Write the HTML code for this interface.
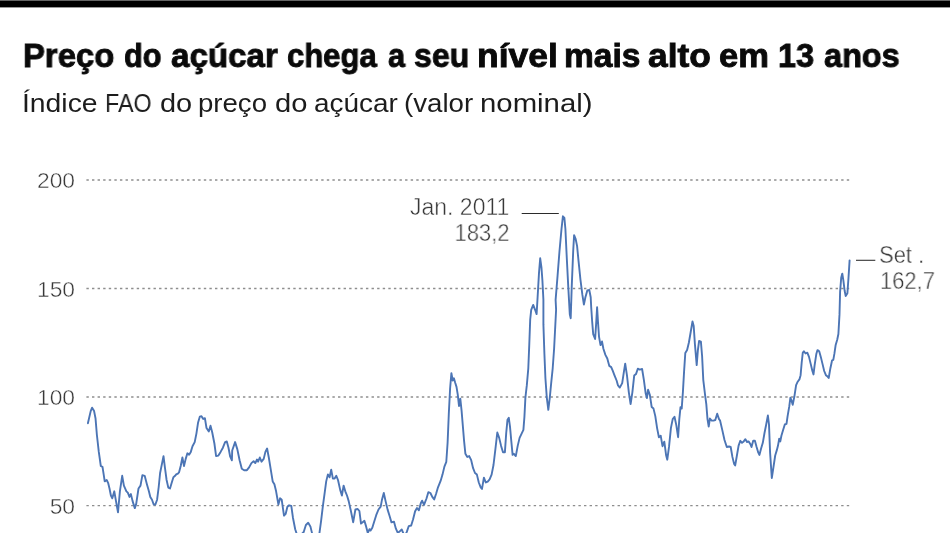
<!DOCTYPE html>
<html><head><meta charset="utf-8">
<style>
html,body{margin:0;padding:0;background:#fff;}
body{width:950px;height:533px;overflow:hidden;position:relative;font-family:"Liberation Sans",sans-serif;}
.w{position:absolute;white-space:nowrap;line-height:1;transform-origin:0 0;will-change:transform;}
.tw{top:38.8px;font-size:33.5px;font-weight:bold;color:#0a0a0a;-webkit-text-stroke:0.9px #0a0a0a;}
.sw{top:91.0px;font-size:25px;color:#1c1c1c;}
.yl{will-change:transform;position:absolute;width:75.0px;text-align:right;left:0;font-size:22.8px;color:#383838;line-height:1;-webkit-text-stroke:0.45px #fff;}
.an{will-change:transform;position:absolute;font-size:23px;color:#383838;line-height:1;white-space:nowrap;-webkit-text-stroke:0.45px #fff;}
svg{position:absolute;left:0;top:0;}
#chart{filter:blur(0.4px);}
#grid{filter:blur(0.3px);}
#title,#sub,.yl,.an{filter:blur(0.35px);}
</style></head><body>
<div id="title"><span class="w tw" style="left:23.24px;transform:scaleX(0.98)">Preço</span><span class="w tw" style="left:124.38px;transform:scaleX(0.9154)">do</span><span class="w tw" style="left:170.61px;transform:scaleX(0.9888)">açúcar</span><span class="w tw" style="left:287.07px;transform:scaleX(0.9258)">chega</span><span class="w tw" style="left:387.88px;transform:scaleX(0.9167)">a</span><span class="w tw" style="left:414.04px;transform:scaleX(0.9564)">seu</span><span class="w tw" style="left:477.38px;transform:scaleX(1.0575)">nível</span><span class="w tw" style="left:564.3px;transform:scaleX(1.0014)">mais</span><span class="w tw" style="left:648.14px;transform:scaleX(1.0552)">alto</span><span class="w tw" style="left:718.87px;transform:scaleX(1.0326)">em</span><span class="w tw" style="left:778.07px;transform:scaleX(0.9657)">13</span><span class="w tw" style="left:823.93px;transform:scaleX(0.9684)">anos</span></div>
<div id="sub"><span class="w sw" style="left:22.03px;transform:scaleX(1.1328)">Índice</span><span class="w sw" style="left:104.94px;transform:scaleX(0.9319)">FAO</span><span class="w sw" style="left:159.94px;transform:scaleX(1.1577)">do</span><span class="w sw" style="left:198.19px;transform:scaleX(1.1033)">preço</span><span class="w sw" style="left:275.03px;transform:scaleX(1.1654)">do</span><span class="w sw" style="left:313.58px;transform:scaleX(1.1162)">açúcar</span><span class="w sw" style="left:403.99px;transform:scaleX(1.1067)">(valor</span><span class="w sw" style="left:480.15px;transform:scaleX(1.1739)">nominal)</span></div>
<svg width="950" height="533" viewBox="0 0 950 533">
<rect x="0" y="0.4" width="950" height="7" fill="#000"/>
<g id="grid" stroke="#8e8e8e" stroke-width="1.3" stroke-dasharray="2.4 3.191" fill="none">
<line x1="86.4" y1="180" x2="850" y2="180"/>
<line x1="86.4" y1="288.5" x2="850" y2="288.5"/>
<line x1="86.4" y1="397" x2="850" y2="397"/>
<line x1="86.4" y1="505.6" x2="850" y2="505.6"/>
</g>
<path id="chart" d="M87.9,423.2 L90.7,411.1 L92.1,407.7 L94.1,411.1 L95.5,418.2 L96.9,435.0 L98.8,451.9 L100.8,466.0 L102.5,466.8 L103.9,475.8 L104.7,481.4 L106.7,480.0 L108.1,482.8 L109.5,488.5 L110.9,495.5 L112.3,498.3 L114.3,491.3 L116.0,501.1 L118.0,512.4 L119.9,491.3 L122.2,475.8 L123.9,485.6 L126.4,491.3 L127.8,492.7 L129.5,496.9 L130.9,494.1 L132.6,501.1 L134.8,508.1 L136.2,503.9 L138.5,488.5 L140.5,485.6 L142.4,475.2 L144.7,475.8 L146.9,484.2 L148.9,491.3 L150.3,496.9 L152.0,499.7 L153.7,504.5 L155.4,504.5 L157.1,499.7 L158.7,487.0 L160.1,473.0 L162.1,463.1 L163.5,456.1 L164.9,467.4 L166.6,480.0 L168.3,487.6 L170.0,488.5 L171.7,482.8 L173.4,477.2 L175.1,475.8 L176.2,474.4 L177.9,473.6 L179.0,472.4 L180.7,466.0 L182.4,457.5 L184.0,466.0 L185.7,458.9 L187.4,453.3 L189.1,454.7 L190.8,451.9 L192.5,446.3 L194.7,442.1 L196.4,433.6 L198.1,422.4 L199.8,416.7 L201.5,416.2 L203.2,419.0 L204.9,418.2 L206.5,428.0 L208.8,431.4 L210.5,425.7 L212.2,432.2 L214.4,443.5 L216.1,456.1 L218.4,455.6 L220.6,451.9 L222.9,447.7 L225.1,442.1 L226.8,441.5 L228.5,447.7 L230.2,456.7 L231.9,460.3 L232.2,450.5 L235.1,442.1 L237.3,449.1 L239.6,460.3 L241.8,468.8 L244.1,470.2 L246.9,470.2 L249.1,467.4 L251.4,463.1 L253.6,461.2 L255.3,463.1 L257.0,459.5 L258.1,461.7 L259.8,457.5 L261.5,461.7 L263.7,458.9 L265.4,451.9 L267.1,448.5 L268.8,457.5 L271.1,471.6 L272.7,481.4 L274.4,484.2 L276.1,491.3 L278.4,504.5 L280.1,498.3 L281.7,499.7 L284.0,515.7 L285.7,513.8 L287.4,506.7 L289.1,505.3 L291.3,505.9 L293.0,518.0 L295.2,529.2 L297.5,536.3 L300.9,534.9 L303.7,532.0 L305.9,525.0 L308.2,522.8 L310.4,526.4 L312.1,533.4 L314.4,540.5 L317.7,540.5 L319.4,533.4 L321.1,520.8 L322.8,506.7 L324.5,494.1 L326.2,481.4 L327.9,474.4 L329.6,477.2 L331.2,469.6 L332.9,478.6 L334.6,478.6 L336.3,475.8 L338.0,480.0 L340.2,489.9 L341.9,495.5 L343.6,485.6 L345.3,491.3 L347.0,495.5 L348.7,501.1 L350.9,511.0 L353.2,522.2 L355.4,509.5 L357.7,509.0 L359.4,511.0 L361.0,523.6 L362.7,522.2 L364.4,520.8 L366.1,526.4 L367.8,532.9 L369.5,529.2 L370.6,530.6 L372.3,527.8 L374.0,522.2 L376.2,515.2 L378.5,509.5 L380.7,506.7 L381.9,500.1 L383.8,493.0 L385.7,501.6 L387.6,509.6 L389.6,516.0 L391.5,522.4 L394.0,521.7 L395.9,528.7 L397.8,532.9 L399.8,531.3 L401.7,529.4 L403.6,533.8 L405.2,535.1 L406.8,531.9 L408.7,526.2 L411.2,525.5 L413.1,519.2 L415.1,511.2 L417.0,508.0 L418.9,510.3 L420.8,503.2 L422.1,500.7 L424.0,504.8 L426.5,498.5 L428.4,492.1 L430.4,493.0 L432.3,496.9 L434.2,499.4 L436.1,493.7 L438.0,487.3 L440.6,480.9 L442.5,474.6 L444.4,466.6 L446.3,461.8 L447.6,442.7 L448.8,414.0 L450.1,388.5 L451.4,373.2 L452.7,380.5 L453.9,378.3 L455.2,382.8 L456.5,386.9 L457.8,394.9 L459.0,406.0 L460.3,398.7 L461.6,410.8 L462.9,426.7 L464.1,441.1 L465.4,453.8 L467.3,457.0 L469.2,456.1 L471.2,460.2 L473.1,468.2 L475.0,473.0 L476.9,474.6 L478.8,482.5 L480.7,487.3 L482.0,488.9 L483.9,477.7 L485.8,482.5 L487.7,481.6 L489.6,479.3 L491.6,474.6 L493.5,465.0 L495.4,449.1 L497.3,432.5 L499.2,437.9 L501.1,445.9 L503.0,452.2 L504.9,452.2 L506.2,433.1 L507.5,419.7 L508.8,417.8 L510.0,426.7 L511.3,441.1 L512.6,454.8 L513.9,453.8 L515.8,456.1 L517.7,445.9 L519.6,437.9 L521.5,433.8 L523.4,429.9 L524.4,417.1 L525.4,397.6 L526.8,385.4 L528.3,368.3 L529.3,343.9 L530.2,319.5 L531.2,309.8 L533.2,304.9 L535.1,309.8 L536.6,314.1 L537.6,297.3 L539.0,272.9 L540.2,258.3 L541.5,268.0 L542.4,280.2 L543.4,299.8 L543.4,324.4 L544.4,353.7 L545.4,378.0 L546.8,397.6 L548.3,409.8 L549.8,397.6 L551.2,382.9 L552.7,368.3 L554.1,348.8 L555.1,329.3 L556.1,309.8 L555.6,299.8 L557.6,275.4 L559.5,251.0 L561.5,229.0 L562.9,216.3 L564.4,218.0 L565.4,229.0 L566.8,258.3 L568.3,287.6 L569.8,314.4 L570.7,318.3 L571.7,287.6 L573.2,251.0 L574.1,235.1 L575.6,238.8 L577.1,246.1 L578.5,260.7 L580.5,280.2 L582.4,294.9 L583.9,304.6 L585.4,297.3 L587.3,290.5 L589.3,290.0 L590.7,297.3 L591.2,307.3 L592.2,322.0 L593.2,334.1 L595.1,339.0 L596.1,324.4 L597.1,307.3 L598.0,322.0 L599.0,336.6 L600.5,345.1 L602.0,341.5 L603.4,348.8 L605.4,354.9 L607.3,358.5 L609.3,365.9 L611.2,367.1 L612.7,370.7 L614.6,375.6 L616.6,380.5 L618.0,385.4 L619.8,387.6 L622.2,383.1 L624.0,371.1 L625.2,363.6 L627.0,375.6 L628.8,392.1 L630.6,404.1 L632.4,392.1 L634.2,375.6 L636.0,374.1 L637.8,368.7 L639.7,369.6 L642.1,369.0 L643.9,380.1 L645.7,393.6 L646.9,398.1 L648.1,389.7 L649.9,395.1 L651.7,407.1 L653.5,408.6 L655.3,416.1 L657.1,428.1 L658.9,437.2 L660.7,435.7 L662.5,446.2 L664.3,441.7 L666.1,455.2 L667.3,459.7 L669.1,446.2 L670.9,428.1 L672.7,419.1 L674.5,416.7 L676.3,425.1 L678.1,437.2 L679.3,419.1 L680.5,407.1 L681.7,408.6 L682.9,392.1 L684.1,371.1 L685.3,353.0 L687.1,350.0 L688.9,342.5 L690.7,332.0 L692.5,321.5 L693.7,326.0 L694.9,344.0 L696.7,365.1 L697.9,350.0 L699.1,341.0 L700.9,341.6 L702.1,356.0 L703.3,380.1 L705.1,395.1 L706.3,404.1 L707.5,419.1 L708.7,426.6 L709.9,418.5 L711.7,420.6 L713.5,420.6 L715.3,420.0 L717.2,413.7 L719.0,419.1 L720.0,420.3 L722.3,430.1 L724.5,440.0 L726.8,447.0 L729.0,446.5 L730.7,447.0 L732.4,456.9 L734.1,463.9 L735.2,465.4 L736.9,455.5 L738.6,445.6 L740.3,440.8 L742.0,442.8 L743.7,441.4 L745.4,439.2 L747.0,442.0 L748.7,441.4 L750.4,444.2 L751.5,447.0 L753.2,440.8 L754.9,440.8 L756.6,447.0 L758.3,452.7 L759.4,454.9 L761.1,448.5 L762.8,442.8 L764.5,433.0 L766.2,424.5 L767.9,415.5 L769.0,424.5 L770.1,452.7 L771.8,478.0 L773.5,466.8 L775.2,455.5 L776.9,449.9 L778.0,445.6 L779.2,438.6 L780.3,441.4 L781.4,435.8 L783.1,430.1 L784.8,424.5 L786.5,423.9 L787.6,416.1 L789.3,406.2 L790.4,397.7 L791.5,400.6 L792.7,404.8 L794.4,396.3 L796.1,385.1 L797.7,381.7 L799.4,379.4 L800.6,375.2 L801.7,362.5 L802.8,352.7 L803.9,351.3 L805.6,353.5 L807.3,352.7 L809.0,356.9 L810.7,363.9 L812.4,371.0 L813.5,374.4 L814.6,365.4 L816.3,354.1 L817.5,350.1 L819.2,351.3 L820.8,356.9 L822.5,363.9 L824.2,371.0 L825.9,375.2 L827.6,376.6 L828.7,378.0 L830.4,368.2 L832.1,360.3 L833.3,359.9 L834.4,353.7 L835.6,345.3 L837.2,339.7 L838.4,334.0 L839.5,314.4 L840.1,291.9 L841.2,277.8 L842.3,273.6 L843.4,280.6 L844.6,290.5 L845.7,296.1 L847.4,293.3 L848.5,277.8 L849.6,260.4" fill="none" stroke="#4c75b5" stroke-width="1.9" stroke-linejoin="round" stroke-linecap="round"/>
<line x1="521.7" y1="213.4" x2="558.8" y2="213.4" stroke="#2b2b2b" stroke-width="1.05"/>
<line x1="856" y1="260.3" x2="875.3" y2="260.3" stroke="#333" stroke-width="1.1"/>
</svg>
<div class="yl" id="y200" style="top:168.7px">200</div>
<div class="yl" id="y150" style="top:277.6px">150</div>
<div class="yl" id="y100" style="top:386.1px">100</div>
<div class="yl" id="y50" style="top:494.8px">50</div>
<div class="an" id="jan" style="right:440.6px;top:196px;text-align:right;">Jan. 2011</div>
<div class="an" id="janv" style="right:440.6px;top:221.8px;text-align:right;transform-origin:100% 0;transform:scaleX(0.955)">183,2</div>
<div class="an" id="set" style="left:879.0px;top:242.9px;font-size:24.6px;transform-origin:0 0;transform:scaleX(0.893)">Set .</div>
<div class="an" id="setv" style="left:879.8px;top:269.5px;transform-origin:0 0;transform:scaleX(0.955)">162,7</div>
</body></html>
